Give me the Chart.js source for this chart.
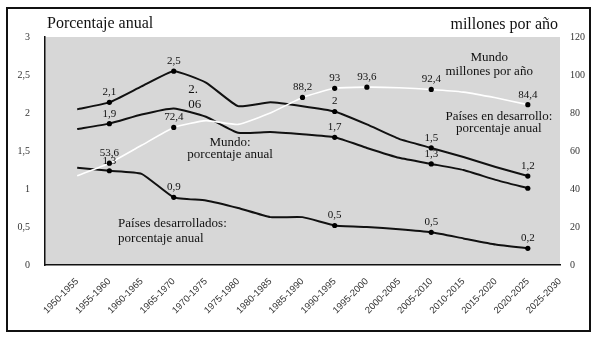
<!DOCTYPE html>
<html>
<head>
<meta charset="utf-8">
<script src="https://cdn.jsdelivr.net/npm/chart.js@4"></script>
<style>
  html, body { margin: 0; padding: 0; background: #fff; }
  #wrap { width: 600px; height: 338px; }
</style>
</head>
<body>
<div id="wrap"><canvas id="grafico" width="600" height="338"></canvas></div>
<script>
// periodos (eje x)
const periodos = ['1950-1955', '1955-1960', '1960-1965', '1965-1970', '1970-1975', '1975-1980',
  '1980-1985', '1985-1990', '1990-1995', '1995-2000', '2000-2005', '2005-2010',
  '2010-2015', '2015-2020', '2020-2025', '2025-2030'];

// porcentaje anual (eje izquierdo)
const mundoPct = [2.05, 2.14, 2.35, 2.55, 2.4, 2.09, 2.14, 2.09, 2.02, 1.85, 1.66, 1.54, 1.42, 1.29, 1.17];
const desarrolloPct = [1.79, 1.86, 1.98, 2.06, 1.95, 1.74, 1.75, 1.72, 1.68, 1.54, 1.41, 1.33, 1.25, 1.12, 1.01];
const desarrolladosPct = [1.28, 1.24, 1.2, 0.89, 0.85, 0.75, 0.63, 0.63, 0.52, 0.5, 0.47, 0.43, 0.35, 0.27, 0.22];

// millones por año (eje derecho)
const mundoMillones = [47, 53.6, 63, 72.4, 76, 74, 80, 88.2, 93, 93.6, 93.3, 92.4, 91, 88, 84.4];

// etiquetas de los puntos marcados
const mundoPctEtiq = [null, '2,1', null, '2,5', null, null, null, null, '2', null, null, '1,5', null, null, '1,2'];
const desarrolloEtiq = [null, '1,9', null, null, null, null, null, null, '1,7', null, null, '1,3', null, null, ''];
const desarrolladosEtiq = [null, '1,3', null, '0,9', null, null, null, null, '0,5', null, null, '0,5', null, null, '0,2'];
const millonesEtiq = [null, '53,6', null, '72,4', null, null, null, '88,2', '93', '93,6', null, '92,4', null, null, '84,4'];

// ticks de los ejes
const ticksIzq = [0, 0.5, 1, 1.5, 2, 2.5, 3];
const ticksDer = [0, 20, 40, 60, 80, 100, 120];

// textos sueltos: [texto, x (índice periodo), y (porcentaje), alineación]
const notas = [
  ['Mundo', 12.8, 2.73, 'center'],
  ['millones por año', 12.8, 2.55, 'center'],
  ['Países en desarrollo:', 13.1, 1.95, 'center'],
  ['porcentaje anual', 13.1, 1.8, 'center'],
  ['Mundo:', 4.75, 1.61, 'center'],
  ['porcentaje anual', 4.75, 1.45, 'center'],
  ['Países desarrollados:', 1.27, 0.55, 'left'],
  ['porcentaje anual', 1.27, 0.35, 'left'],
  ['2.', 3.6, 2.31, 'center'],
  ['06', 3.65, 2.11, 'center']
];

const SERIF = '"Liberation Serif", "DejaVu Serif", serif';

function puntos(arr) {
  return arr.map((v, i) => ({ x: i, y: v }));
}

function serie(valores, etiquetas, eje, color, ancho) {
  return {
    data: puntos(valores),
    etiquetas: etiquetas,
    yAxisID: eje,
    borderColor: color,
    borderWidth: ancho,
    tension: 0.15,
    pointRadius: ctx => etiquetas[ctx.dataIndex] != null ? 2.6 : 0,
    pointBackgroundColor: '#000',
    pointBorderWidth: 0,
    fill: false
  };
}

const fondo = {
  id: 'fondo',
  beforeDraw(chart) {
    const { ctx, chartArea: a } = chart;
    ctx.save();
    ctx.fillStyle = '#fff';
    ctx.fillRect(0, 0, chart.width, chart.height);
    ctx.fillStyle = '#d7d7d7';
    ctx.fillRect(a.left, a.top, a.right - a.left, a.bottom - a.top);
    ctx.restore();
  },
  afterDraw(chart) {
    const { ctx, scales } = chart;
    ctx.save();
    ctx.fillStyle = '#111';

    // etiquetas de datos
    ctx.font = '11px ' + SERIF;
    ctx.textAlign = 'center';
    ctx.textBaseline = 'middle';
    chart.data.datasets.forEach((ds, k) => {
      const meta = chart.getDatasetMeta(k);
      meta.data.forEach((p, i) => {
        const t = ds.etiquetas[i];
        if (t) ctx.fillText(t, p.x, p.y - 10);
      });
    });

    // notas
    ctx.font = '13px ' + SERIF;
    notas.forEach(([t, x, y, al]) => {
      ctx.textAlign = al;
      ctx.fillText(t, scales.x.getPixelForValue(x), scales.y.getPixelForValue(y));
    });

    // títulos de ejes
    ctx.font = '16px ' + SERIF;
    ctx.textAlign = 'left';
    ctx.fillText('Porcentaje anual', 47, 24);
    ctx.textAlign = 'right';
    ctx.fillText('millones por año', 558, 25);

    // marco
    ctx.strokeStyle = '#111';
    ctx.lineWidth = 2;
    ctx.strokeRect(7, 8, 583, 323);
    ctx.restore();
  }
};

new Chart(document.getElementById('grafico'), {
  type: 'line',
  data: {
    datasets: [
      serie(mundoMillones, millonesEtiq, 'y2', '#fff', 1.6),
      serie(mundoPct, mundoPctEtiq, 'y', '#111', 2),
      serie(desarrolloPct, desarrolloEtiq, 'y', '#111', 2),
      serie(desarrolladosPct, desarrolladosEtiq, 'y', '#111', 2)
    ]
  },
  options: {
    responsive: false,
    animation: false,
    layout: { padding: { top: 37, left: 0, right: 0, bottom: 0 } },
    plugins: { legend: { display: false }, tooltip: { enabled: false } },
    scales: {
      x: {
        type: 'linear',
        min: -1,
        max: 15,
        grid: { display: false, drawTicks: false },
        border: { display: true, color: '#111', width: 1.5 },
        afterBuildTicks: s => { s.ticks = periodos.map((p, i) => ({ value: i })); },
        afterFit: s => { s.height = 73; },
        ticks: {
          autoSkip: false,
          minRotation: 45,
          maxRotation: 45,
          padding: 11,
          color: '#333',
          font: { family: '"Liberation Sans", Arial, sans-serif', size: 9.5 },
          callback: v => periodos[v] ?? ''
        }
      },
      y: {
        position: 'left',
        min: 0,
        max: 3,
        grid: { display: false, drawTicks: false },
        border: { display: true, color: '#111', width: 1.5 },
        afterBuildTicks: s => { s.ticks = ticksIzq.map(v => ({ value: v })); },
        afterFit: s => { s.width = 45; },
        ticks: {
          padding: 15,
          color: '#333',
          font: { family: SERIF, size: 10 },
          callback: v => String(v).replace('.', ',')
        }
      },
      y2: {
        position: 'right',
        min: 0,
        max: 120,
        grid: { display: false, drawTicks: false },
        border: { display: false },
        afterBuildTicks: s => { s.ticks = ticksDer.map(v => ({ value: v })); },
        afterFit: s => { s.width = 40; },
        ticks: {
          padding: 10,
          color: '#333',
          font: { family: SERIF, size: 10 }
        }
      }
    }
  },
  plugins: [fondo]
});
</script>
</body>
</html>
